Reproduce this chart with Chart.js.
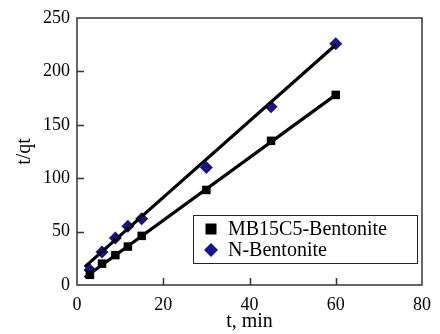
<!DOCTYPE html>
<html>
<head>
<meta charset="utf-8">
<script src="https://cdn.jsdelivr.net/npm/chart.js@4.4.1/dist/chart.umd.min.js"></script>
<style>
html,body{margin:0;padding:0;background:#fff;}
#wrap{width:440px;height:334px;position:relative;}
</style>
</head>
<body>
<div id="wrap"><canvas id="c" width="440" height="334"></canvas></div>
<script>
const timeMin = [3, 5.8, 8.9, 11.8, 15, 30, 45, 60];
const mbValues = [9.5, 20, 28, 36, 46, 89, 135, 178];
const nValues = [14, 31, 44, 55, 62, 110, 167, 226];
const fitX = [1.8, 60];
const mbFitY = [7, 178];
const nFitY = [17, 225];
const xTicks = [0, 20, 40, 60, 80];
const yTicks = [0, 50, 100, 150, 200, 250];
const seriesLabels = ['MB15C5-Bentonite', 'N-Bentonite'];

const FONT = '"Liberation Serif", "Times New Roman", serif';
const toPts = (xs, ys) => xs.map((x, i) => ({x: x, y: ys[i]}));

const frameAndTicks = {
  id: 'frameAndTicks',
  afterDraw(chart) {
    const ctx = chart.ctx, a = chart.chartArea;
    const xs = chart.scales.x, ys = chart.scales.y;
    ctx.save();
    ctx.strokeStyle = '#333';
    ctx.lineWidth = 1.5;
    ctx.strokeRect(a.left, a.top, a.right - a.left, a.bottom - a.top);
    ctx.beginPath();
    xTicks.forEach(v => {
      if (v <= xs.min || v >= xs.max) return;
      const px = Math.round(xs.getPixelForValue(v)) + 0.5;
      ctx.moveTo(px, a.bottom); ctx.lineTo(px, a.bottom - 7);
    });
    yTicks.forEach(v => {
      if (v <= ys.min || v >= ys.max) return;
      const py = Math.round(ys.getPixelForValue(v)) + 0.5;
      ctx.moveTo(a.left, py); ctx.lineTo(a.left + 7, py);
    });
    ctx.stroke();

    // legend
    const bx = 193, by = 215, bw = 224, bh = 48;
    ctx.fillStyle = '#fff';
    ctx.fillRect(bx, by, bw, bh);
    ctx.lineWidth = 1;
    ctx.strokeStyle = '#222';
    ctx.strokeRect(bx + 0.5, by + 0.5, bw, bh);
    ctx.font = '20px ' + FONT;
    ctx.textBaseline = 'middle';
    const rows = [by + 14, by + 35];
    ctx.fillStyle = '#000';
    ctx.fillRect(211 - 5.5, rows[0] - 5.5, 11, 11);
    ctx.fillStyle = '#14148c';
    ctx.beginPath();
    ctx.moveTo(211, rows[1] - 7); ctx.lineTo(218, rows[1]); ctx.lineTo(211, rows[1] + 7); ctx.lineTo(204, rows[1]);
    ctx.closePath(); ctx.fill();
    ctx.fillStyle = '#000';
    ctx.fillText(seriesLabels[0], 228, rows[0] + 1);
    ctx.fillText(seriesLabels[1], 228, rows[1] + 1);
    ctx.restore();
  }
};

new Chart(document.getElementById('c'), {
  type: 'scatter',
  data: {
    datasets: [
      {label: seriesLabels[1], data: toPts(timeMin, nValues), pointStyle: 'rectRot', pointRadius: 6.5,
       backgroundColor: '#14148c', borderColor: '#14148c', borderWidth: 0, order: 3},
      {label: 'fitN', type: 'line', data: toPts(fitX, nFitY), borderColor: '#000', borderWidth: 3.2,
       pointRadius: 0, fill: false, order: 2},
      {label: 'fitMB', type: 'line', data: toPts(fitX, mbFitY), borderColor: '#000', borderWidth: 3.2,
       pointRadius: 0, fill: false, order: 2},
      {label: seriesLabels[0], data: toPts(timeMin, mbValues), pointStyle: 'rect', pointRadius: 6,
       backgroundColor: '#000', borderColor: '#000', borderWidth: 0, order: 1}
    ]
  },
  options: {
    responsive: false,
    animation: false,
    devicePixelRatio: 1,
    layout: {padding: {top: 18, right: 12, left: 0, bottom: 0}},
    plugins: {legend: {display: false}, tooltip: {enabled: false}},
    scales: {
      x: {
        type: 'linear', min: 0, max: 80,
        afterBuildTicks: s => { s.ticks = xTicks.map(v => ({value: v})); },
        afterFit: s => { s.height = 49; },
        grid: {display: false, drawTicks: false},
        border: {display: false},
        ticks: {color: '#000', font: {family: FONT, size: 18}, padding: 9, maxRotation: 0},
        title: {display: true, text: 't, min', color: '#000', font: {family: FONT, size: 20}, padding: {top: 0, bottom: 0}}
      },
      y: {
        type: 'linear', min: 0, max: 250,
        afterBuildTicks: s => { s.ticks = yTicks.map(v => ({value: v})); },
        afterFit: s => { s.width = 77; },
        grid: {display: false, drawTicks: false},
        border: {display: false},
        ticks: {color: '#000', font: {family: FONT, size: 18}, padding: 7},
        title: {display: true, text: 't/qt', color: '#000', font: {family: FONT, size: 20}, padding: {top: 13, bottom: 4}}
      }
    }
  },
  plugins: [frameAndTicks]
});
</script>
</body>
</html>
